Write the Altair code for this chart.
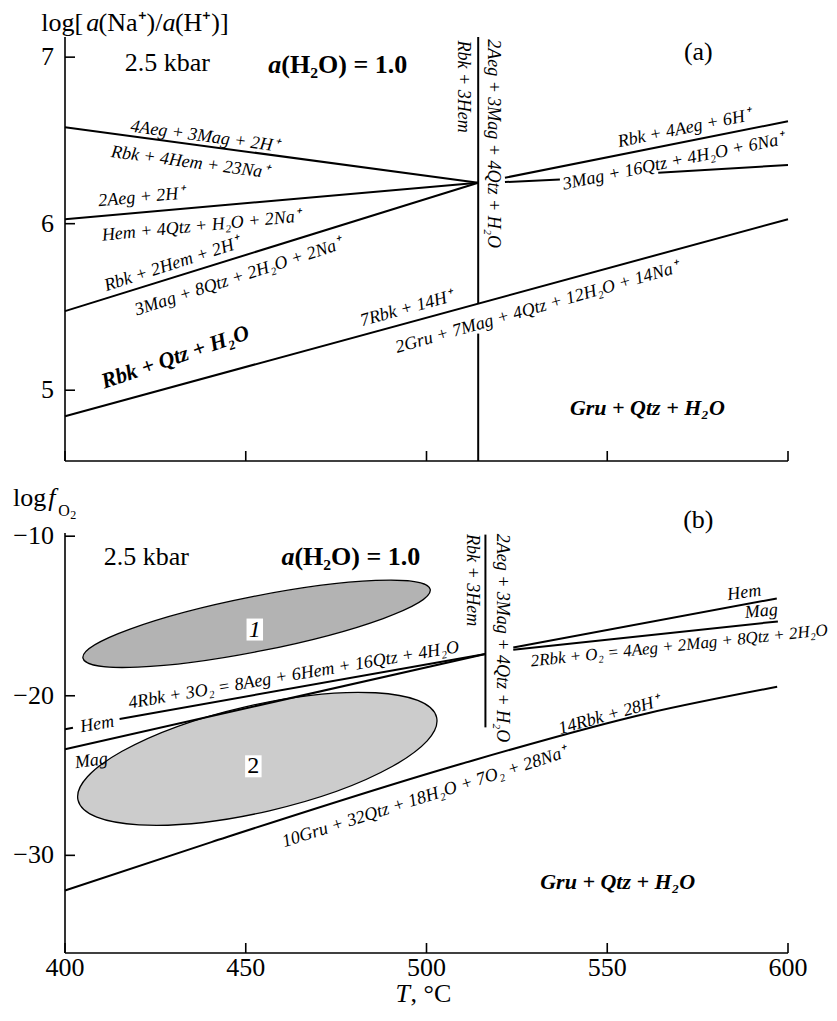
import altair as alt
import pandas as pd

FONT = "Liberation Serif"

# ---------------- scales / ticks ----------------
T_DOMAIN = [400, 600]
A_DOMAIN = [4.575, 7.121]
B_DOMAIN = [-36.12, -9.80]
T_TICKS = [400, 450, 500, 550, 600]
A_TICKS = [5, 6, 7]
B_TICKS = [-30, -20, -10]

W = 723
H_A = 424
H_B = 420
GAP = 72
TICK_PX = 10

# ---------------- panel (a) boundaries: T (°C), log[a(Na+)/a(H+)] ----------------
A1_T = [400, 514.3]
A1_V = [6.579, 6.246]
A2_T = [400, 514.3]
A2_V = [6.027, 6.246]
A3_T = [400, 514.3]
A3_V = [5.475, 6.246]
A4_T = [400, 600]
A4_V = [4.844, 6.027]
A5_T = [521.7, 600]
A5_V = [6.276, 6.615]
A6A_T = [521.7, 536.9]
A6A_V = [6.250, 6.266]
A6B_T = [564.1, 600]
A6B_V = [6.306, 6.352]
A_VERT_T = 514.3
A_VERT_SEGS = [(5.52, 7.121), (4.575, 5.34)]

# ---------------- panel (b) boundaries: T (°C), log fO2 ----------------
B_HEM1_T = [400, 402.2]
B_HEM1_V = [-22.10, -22.01]
B_HEM2_T = [415.1, 516.3]
B_HEM2_V = [-21.45, -17.38]
B_MAG_T = [400, 516.3]
B_MAG_V = [-23.35, -17.38]
B_HEMR_T = [524.0, 596.9]
B_HEMR_V = [-16.98, -13.90]
B_MAGR_T = [524.0, 597.2]
B_MAGR_V = [-17.12, -15.34]
B_GRU_T = [400, 440.5, 509.7, 561.5, 597.0]
B_GRU_V = [-32.2, -29.17, -24.26, -21.08, -19.44]
B_VERT_T = 516.3
B_VERT_SEGS = [(-21.98, -9.90)]

# fields 1 and 2 (ellipses): centre T, centre log fO2
FIELD_T = [453.0, 453.2]
FIELD_V = [-15.49, -23.95]
FIELD_LABEL = ["1", "2"]
FIELD_LABEL_T = [452.5, 452.1]
FIELD_LABEL_V = [-15.85, -24.42]

# ---------------- text labels (label, T, value, angle) ----------------
A_ITALIC = [
    ("4Aeg + 3Mag + 2H⁺", 438.6, 6.523, 7.7),
    ("Rbk + 4Hem + 23Na⁺", 434.5, 6.367, 7.7),
    ("2Aeg + 2H⁺", 421.1, 6.158, 354.9),
    ("Hem + 4Qtz + H₂O + 2Na⁺", 437.7, 5.985, 354.5),
    ("Rbk + 2Hem + 2H⁺", 429.6, 5.754, 342),
    ("3Mag + 8Qtz + 2H₂O + 2Na⁺", 448.0, 5.678, 342),
    ("7Rbk + 14H⁺", 494.5, 5.489, 344.7),
    ("2Gru + 7Mag + 4Qtz + 12H₂O + 14Na⁺", 530.6, 5.495, 344),
    ("Rbk + 4Aeg + 6H⁺", 571.3, 6.570, 348.5),
    ("3Mag + 16Qtz + 4H₂O + 6Na⁺", 568.3, 6.371, 348.3),
    ("Rbk + 3Hem", 510.2, 6.823, 90),
    ("2Aeg + 3Mag + 4Qtz + H₂O", 518.5, 6.481, 90),
]
A_BOLD = [
    ("Rbk + Qtz + H₂O", 430.5, 5.200, 341),
    ("Gru + Qtz + H₂O", 561.1, 4.891, 0),
]
A_REGULAR = [
    ("2.5 kbar", 428.3, 6.964, 0),
    ("(a)", 575.2, 7.033, 0),
]
B_ITALIC = [
    ("4Rbk + 3O₂ = 8Aeg + 6Hem + 16Qtz + 4H₂O", 463.3, -18.72, 350.3),
    ("Hem", 408.9, -21.80, 350),
    ("Mag", 407.3, -24.09, 352),
    ("Hem", 587.9, -13.55, 352),
    ("Mag", 592.6, -14.72, 355),
    ("14Rbk + 28H⁺", 550.5, -21.23, 344.4),
    ("10Gru + 32Qtz + 18H₂O + 7O₂ + 28Na⁺", 499.5, -26.36, 342.3),
    ("Rbk + 3Hem", 512.5, -12.75, 90),
    ("2Aeg + 3Mag + 4Qtz + H₂O", 520.8, -16.38, 90),
]
B_ITALIC_RIGHT = [
    ("2Rbk + O₂ = 4Aeg + 2Mag + 8Qtz + 2H₂O", 569.9, -16.87, 354),
]
B_BOLD = [
    ("Gru + Qtz + H₂O", 552.9, -31.64, 0),
]
B_REGULAR = [
    ("2.5 kbar", 422.5, -11.33, 0),
    ("(b)", 575.2, -8.98, 0),
]
# headers built from pieces (label, T, value), left-aligned
A_HEAD_REG = [("log[", 393.44, 7.157), ("(Na⁺)/", 409.3, 7.157), ("(H⁺)]", 430.4, 7.157)]
A_HEAD_IT = [("a", 405.90, 7.157), ("a", 427.0, 7.157)]
A_WATER_IT = [("a", 456.2, 6.954)]
A_WATER = [("(H₂O) = 1.0", 459.85, 6.954)]
B_HEAD_REG = [("log", 385.61, -8.127)]
B_HEAD_IT = [("f", 395.38, -8.127)]
B_HEAD_O = [("O", 398.15, -8.735)]
B_HEAD_2 = [("2", 401.47, -8.923)]
B_WATER_IT = [("a", 459.87, -11.335)]
B_WATER = [("(H₂O) = 1.0", 463.47, -11.335)]
X_TITLE_IT = [("T", 491.42, -39.19)]
X_TITLE = [(", °C", 495.57, -39.19)]


def xs():
    return alt.Scale(domain=T_DOMAIN, nice=False, zero=False)


def ys(dom):
    return alt.Scale(domain=dom, nice=False, zero=False)


def lines_df(series):
    rows = []
    for name, ts, vs in series:
        for t, v in zip(ts, vs):
            rows.append({"id": name, "T": t, "v": v})
    return pd.DataFrame(rows)


def line_layer(df, dom):
    return alt.Chart(df).mark_line(color="black", strokeWidth=2, interpolate="monotone").encode(
        x=alt.X("T:Q", scale=xs(), axis=None),
        y=alt.Y("v:Q", scale=ys(dom), axis=None),
        detail="id:N",
    )


def rule_layer(df, dom, width=2):
    return alt.Chart(df).mark_rule(color="black", strokeWidth=width).encode(
        x=alt.X("T:Q", scale=xs(), axis=None),
        x2="T2:Q",
        y=alt.Y("v:Q", scale=ys(dom), axis=None),
        y2="v2:Q",
    )


def text_layer(rows, dom, size, style="normal", weight="normal", align="center",
               baseline="middle", dx=0, dy=0):
    recs = []
    for r in rows:
        recs.append({"label": r[0], "T": r[1], "v": r[2], "angle": r[3] if len(r) > 3 else 0})
    df = pd.DataFrame(recs)
    return alt.Chart(df).mark_text(
        font=FONT, fontStyle=style, fontWeight=weight, align=align, baseline=baseline,
        color="black", fontSize=size, dx=dx, dy=dy,
    ).encode(
        x=alt.X("T:Q", scale=xs(), axis=None),
        y=alt.Y("v:Q", scale=ys(dom), axis=None),
        text="label:N",
        angle=alt.Angle("angle:Q", scale=None),
    )


def frame_layers(dom, h, yticks, xlabels):
    """Axis lines, inward ticks and tick labels, built from the tick arrays."""
    dv = (dom[1] - dom[0]) * TICK_PX / h
    dt = (T_DOMAIN[1] - T_DOMAIN[0]) * TICK_PX / W
    axes = pd.DataFrame([
        {"T": T_DOMAIN[0], "T2": T_DOMAIN[0], "v": dom[0], "v2": dom[1]},
        {"T": T_DOMAIN[0], "T2": T_DOMAIN[1], "v": dom[0], "v2": dom[0]},
    ])
    ticks = pd.DataFrame(
        [{"T": t, "T2": t, "v": dom[0], "v2": dom[0] + dv} for t in T_TICKS]
        + [{"T": T_DOMAIN[0], "T2": T_DOMAIN[0] + dt, "v": v, "v2": v} for v in yticks]
    )
    ylab = [(str(v).replace("-", "\u2212"), T_DOMAIN[0], v) for v in yticks]
    layers = [
        rule_layer(axes, dom, 1.6),
        rule_layer(ticks, dom, 1.6),
        text_layer(ylab, dom, 26, align="right", dx=-11),
    ]
    if xlabels:
        xlab = [(str(t), t, dom[0]) for t in T_TICKS]
        layers.append(text_layer(xlab, dom, 26, baseline="alphabetic", dy=23))
    return layers


# ---------------- panel (a) ----------------
a_lines = lines_df([
    ("a1", A1_T, A1_V), ("a2", A2_T, A2_V), ("a3", A3_T, A3_V), ("a4", A4_T, A4_V),
    ("a5", A5_T, A5_V), ("a6a", A6A_T, A6A_V), ("a6b", A6B_T, A6B_V),
])
a_vert = pd.DataFrame([{"T": A_VERT_T, "T2": A_VERT_T, "v": s[0], "v2": s[1]} for s in A_VERT_SEGS])

panel_a = alt.layer(
    *frame_layers(A_DOMAIN, H_A, A_TICKS, False),
    line_layer(a_lines, A_DOMAIN),
    rule_layer(a_vert, A_DOMAIN),
    text_layer(A_ITALIC, A_DOMAIN, 18, style="italic"),
    text_layer(A_BOLD, A_DOMAIN, 22, style="italic", weight="bold"),
    text_layer(A_REGULAR, A_DOMAIN, 26),
    text_layer(A_HEAD_REG, A_DOMAIN, 26, align="left", baseline="alphabetic"),
    text_layer(A_HEAD_IT, A_DOMAIN, 26, style="italic", align="left", baseline="alphabetic"),
    text_layer(A_WATER_IT, A_DOMAIN, 26, style="italic", weight="bold", align="left"),
    text_layer(A_WATER, A_DOMAIN, 26, weight="bold", align="left"),
).properties(width=W, height=H_A)

# ---------------- panel (b) ----------------
b_lines = lines_df([
    ("hem1", B_HEM1_T, B_HEM1_V), ("hem2", B_HEM2_T, B_HEM2_V), ("mag", B_MAG_T, B_MAG_V),
    ("hemr", B_HEMR_T, B_HEMR_V), ("magr", B_MAGR_T, B_MAGR_V), ("gru", B_GRU_T, B_GRU_V),
])
b_vert = pd.DataFrame([{"T": B_VERT_T, "T2": B_VERT_T, "v": s[0], "v2": s[1]} for s in B_VERT_SEGS])

fields = pd.DataFrame({"T": FIELD_T, "v": FIELD_V})
K = 0.5523


def ellipse_path(r):
    return (f"M -1 0 C -1 {-K*r:.4f} {-K:.4f} {-r:.4f} 0 {-r:.4f} "
            f"C {K:.4f} {-r:.4f} 1 {-K*r:.4f} 1 0 "
            f"C 1 {K*r:.4f} {K:.4f} {r:.4f} 0 {r:.4f} "
            f"C {-K:.4f} {r:.4f} -1 {K*r:.4f} -1 0 Z")


def ellipse_layer(i, ratio, length, angle, fill):
    return alt.Chart(fields.iloc[[i]]).mark_point(
        shape=ellipse_path(ratio), filled=True, fill=fill, stroke="black", strokeWidth=1.3,
        opacity=1, fillOpacity=1,
    ).encode(
        x=alt.X("T:Q", scale=xs(), axis=None),
        y=alt.Y("v:Q", scale=ys(B_DOMAIN), axis=None),
        size=alt.value(length * length),
        angle=alt.value(angle),
    )


box_df = pd.DataFrame({"T": FIELD_LABEL_T, "v": FIELD_LABEL_V})
boxes = alt.Chart(box_df).mark_point(
    shape="M -0.75 -1 L 0.75 -1 L 0.75 1 L -0.75 1 Z", filled=True, fill="white",
    strokeWidth=0, opacity=1,
).encode(
    x=alt.X("T:Q", scale=xs(), axis=None),
    y=alt.Y("v:Q", scale=ys(B_DOMAIN), axis=None),
    size=alt.value(484),
)

panel_b = alt.layer(
    ellipse_layer(0, 0.155, 354.0, 348.8, "#b3b3b3"),
    ellipse_layer(1, 0.29, 368.0, 347.0, "#cccccc"),
    boxes,
    *frame_layers(B_DOMAIN, H_B, B_TICKS, True),
    line_layer(b_lines, B_DOMAIN),
    rule_layer(b_vert, B_DOMAIN),
    text_layer(B_ITALIC, B_DOMAIN, 18, style="italic"),
    text_layer(B_ITALIC_RIGHT, B_DOMAIN, 17, style="italic"),
    text_layer([(FIELD_LABEL[0], FIELD_LABEL_T[0], FIELD_LABEL_V[0])], B_DOMAIN, 24, style="italic"),
    text_layer([(FIELD_LABEL[1], FIELD_LABEL_T[1], FIELD_LABEL_V[1])], B_DOMAIN, 24),
    text_layer(B_BOLD, B_DOMAIN, 22, style="italic", weight="bold"),
    text_layer(B_REGULAR, B_DOMAIN, 26),
    text_layer(B_HEAD_REG, B_DOMAIN, 26, align="left", baseline="alphabetic"),
    text_layer(B_HEAD_IT, B_DOMAIN, 26, style="italic", align="left", baseline="alphabetic"),
    text_layer(B_HEAD_O, B_DOMAIN, 16, align="left", baseline="alphabetic"),
    text_layer(B_HEAD_2, B_DOMAIN, 12, align="left", baseline="alphabetic"),
    text_layer(B_WATER_IT, B_DOMAIN, 26, style="italic", weight="bold", align="left"),
    text_layer(B_WATER, B_DOMAIN, 26, weight="bold", align="left"),
    text_layer(X_TITLE_IT, B_DOMAIN, 26, style="italic", align="left", baseline="alphabetic"),
    text_layer(X_TITLE, B_DOMAIN, 26, align="left", baseline="alphabetic"),
).properties(width=W, height=H_B)

chart = alt.vconcat(panel_a, panel_b, spacing=GAP, bounds="flush").configure_view(
    stroke=None
).properties(
    padding={"left": 4, "top": 2, "right": 0, "bottom": 0},
    background="white",
)

chart.save("out.html", embed_options={"renderer": "svg", "actions": False})
